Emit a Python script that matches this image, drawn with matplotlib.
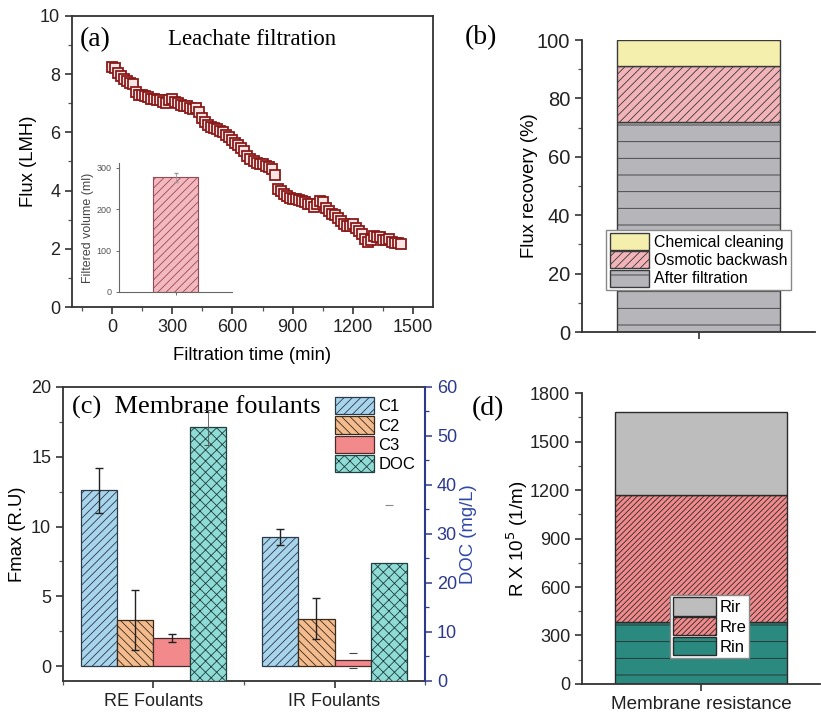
import matplotlib
matplotlib.use("Agg")
import matplotlib.pyplot as plt
from matplotlib.ticker import MultipleLocator
import numpy as np

plt.rcParams['font.family'] = ['Liberation Sans', 'DejaVu Sans']
plt.rcParams['hatch.linewidth'] = 0.6
plt.rcParams['axes.linewidth'] = 1.3

# (a) flux decline during leachate filtration
time_min = [0, 15, 30, 45, 60, 75, 90, 105, 120, 135, 150, 165, 180, 195, 210, 225,
            240, 255, 270, 285, 300, 315, 330, 345, 360, 375, 390, 405, 420, 435, 450,
            465, 480, 495, 510, 525, 540, 555, 570, 585, 600, 615, 630, 645, 660, 675,
            690, 705, 720, 735, 750, 765, 780, 795, 810, 825, 840, 855, 870, 885, 900,
            915, 930, 945, 960, 975, 990, 1005, 1020, 1035, 1050, 1065, 1080, 1095, 1110,
            1125, 1140, 1155, 1170, 1185, 1200, 1215, 1230, 1245, 1260, 1275, 1290, 1305,
            1320, 1335, 1350, 1365, 1380, 1395, 1410, 1425, 1440]
flux = [8.25, 8.2, 8.05, 7.95, 7.85, 7.75, 7.7, 7.65, 7.4, 7.3, 7.3, 7.25, 7.2, 7.15,
        7.15, 7.1, 7.1, 7.05, 7.0, 7.1, 7.15, 7.05, 7.0, 6.95, 6.9, 6.9, 6.85, 6.8, 6.85,
        6.7, 6.5, 6.35, 6.25, 6.2, 6.15, 6.1, 6.05, 6.0, 5.9, 5.85, 5.75, 5.65, 5.55, 5.45,
        5.35, 5.2, 5.1, 5.0, 4.95, 4.92, 4.9, 4.85, 4.8, 4.75, 4.55, 4.05, 3.98, 3.9, 3.8,
        3.75, 3.72, 3.7, 3.68, 3.65, 3.6, 3.55, 3.55, 3.45, 3.55, 3.65, 3.62, 3.4, 3.3,
        3.2, 3.15, 3.05, 2.95, 2.85, 2.8, 2.8, 2.85, 2.7, 2.6, 2.5, 2.35, 2.25, 2.3, 2.45,
        2.4, 2.4, 2.3, 2.3, 2.35, 2.25, 2.2, 2.2, 2.15]
filtered_volume = 277
filtered_volume_err = 10

# (b) flux recovery
recovery_labels = ['After filtration', 'Osmotic backwash', 'Chemical cleaning']
recovery_values = [72, 19, 9]

# (c) membrane foulants
groups = ['RE Foulants', 'IR Foulants']
c1 = [12.6, 9.25]
c1_err = [1.6, 0.6]
c2 = [3.3, 3.4]
c2_err = [2.15, 1.45]
c3 = [2.0, 0.4]
c3_err = [0.27, 0.56]
doc = [51.8, 24.1]
doc_err = [3.6, 11.8]

# (d) membrane resistance
resist_labels = ['Rin', 'Rre', 'Rir']
resist_values = [385, 785, 510]

fig = plt.figure(figsize=(8.21, 7.16), dpi=100)
serif = ['Liberation Serif', 'DejaVu Serif']
spine_col = '#333333'


def style_ticks(ax, size=13):
    ax.tick_params(which='major', direction='out', length=5, width=1.1,
                   labelsize=size, colors='#222222')
    ax.tick_params(which='minor', direction='out', length=3, width=0.9, colors='#555555')
    for s in ax.spines.values():
        s.set_color(spine_col)


# ---------- (a) ----------
ax_a = fig.add_axes([0.0877, 0.5712, 0.4397, 0.4065])
ax_a.plot(time_min, flux, 's', ms=6.5, mfc='#f8e4e4', mec='#8b1a1a', mew=1.3)
ax_a.set_xlim(-200, 1600)
ax_a.set_ylim(0, 10)
ax_a.xaxis.set_major_locator(MultipleLocator(300))
ax_a.xaxis.set_minor_locator(MultipleLocator(150))
ax_a.yaxis.set_major_locator(MultipleLocator(2))
ax_a.yaxis.set_minor_locator(MultipleLocator(1))
style_ticks(ax_a)
ax_a.set_xlabel('Filtration time (min)', fontsize=13.3, labelpad=8)
ax_a.set_ylabel('Flux (LMH)', fontsize=13.3)
ax_a.yaxis.set_label_coords(-0.097, 0.5)
ax_a.text(0.022, 0.962, '(a)', transform=ax_a.transAxes, fontsize=20,
          family=serif, va='top', ha='left')
ax_a.text(0.5, 0.918, 'Leachate filtration', transform=ax_a.transAxes,
          fontsize=16.5, family=serif, va='center', ha='center')

# inset
ax_in = fig.add_axes([0.145, 0.5922, 0.1376, 0.1801])
ax_in.bar([0], [filtered_volume], width=0.4, color='#f4b8bf', edgecolor='#9a4a55',
          hatch='////', linewidth=0.8)
ax_in.errorbar([0], [filtered_volume], yerr=[filtered_volume_err], fmt='none',
               ecolor='#999999', elinewidth=0.6, capsize=1.5)
ax_in.set_xlim(-0.5, 0.5)
ax_in.set_ylim(0, 312)
ax_in.set_yticks([0, 100, 200, 300])
ax_in.set_xticks([0])
ax_in.set_xticklabels([])
ax_in.spines['top'].set_visible(False)
ax_in.spines['right'].set_visible(False)
for s in ax_in.spines.values():
    s.set_color('#666666')
    s.set_linewidth(0.8)
ax_in.tick_params(labelsize=6.5, length=2, width=0.6, colors='#555555')
ax_in.set_ylabel('Filtered volume (ml)', fontsize=8.9, color='#444444', labelpad=2)
ax_in.patch.set_alpha(0)

# ---------- (b) ----------
ax_b = fig.add_axes([0.7089, 0.5363, 0.2838, 0.4078])
b_colors = ['#b5b5ba', '#f2b4b8', '#f5efae']
b_hatch = ['-', '////', None]
bottom = 0
handles_b = []
for lab, val, col, h in zip(recovery_labels, recovery_values, b_colors, b_hatch):
    bb = ax_b.bar([0], [val], bottom=bottom, width=0.7, color=col, edgecolor='#3a3a3a',
                  hatch=h, linewidth=1.0, label=lab)
    handles_b.append(bb)
    bottom += val
ax_b.set_xlim(-0.5, 0.5)
ax_b.set_ylim(0, 100)
ax_b.set_xticks([0])
ax_b.set_xticklabels([])
ax_b.yaxis.set_major_locator(MultipleLocator(20))
ax_b.yaxis.set_minor_locator(MultipleLocator(10))
ax_b.spines['top'].set_visible(False)
ax_b.spines['right'].set_visible(False)
style_ticks(ax_b, size=14.5)
ax_b.set_ylabel('Flux recovery (%)', fontsize=13.3)
ax_b.yaxis.set_label_coords(-0.189, 0.5)
ax_b.legend(handles_b[::-1], recovery_labels[::-1], loc='lower left',
            bbox_to_anchor=(0.105, 0.145), fontsize=11.4, frameon=True,
            fancybox=False, edgecolor='#888888', framealpha=1,
            handlelength=2.5, handleheight=1.25, labelspacing=0.1,
            handletextpad=0.3, borderpad=0.2, borderaxespad=0)
fig.text(0.566, 0.947, '(b)', fontsize=20, family=serif, va='center', ha='left')

# ---------- (c) ----------
ax_c = fig.add_axes([0.0767, 0.0489, 0.441, 0.4106])
x = np.arange(1, len(groups) + 1)
w = 0.2
ax_c.bar(x - 1.5 * w, c1, width=w, color='#a9d5ec', edgecolor='#2a3a4a', hatch='////',
         linewidth=0.9, label='C1', zorder=2)
ax_c.bar(x - 0.5 * w, c2, width=w, color='#f4bc8e', edgecolor='#3a2a1a', hatch='\\\\\\\\',
         linewidth=0.9, label='C2', zorder=2)
ax_c.bar(x + 0.5 * w, c3, width=w, color='#f28a8c', edgecolor='#4a2a2a',
         linewidth=0.9, label='C3', zorder=2)
err_kw = dict(fmt='none', ecolor='#222222', elinewidth=1.0, capsize=3, capthick=1.0, zorder=4)
ax_c.errorbar(x - 1.5 * w, c1, yerr=c1_err, **err_kw)
ax_c.errorbar(x - 0.5 * w, c2, yerr=c2_err, **err_kw)
ax_c.errorbar(x[:1] + 0.5 * w, c3[:1], yerr=c3_err[:1], **err_kw)
ax_c.errorbar(x[1:] + 0.5 * w, c3[1:], yerr=c3_err[1:], fmt='none', ecolor='#444444',
              elinewidth=0, capsize=3, capthick=0.8, zorder=4)
ax_c.set_xlim(0.5, 2.5)
ax_c.set_ylim(-1.07, 20)
ax_c.set_xticks(x)
ax_c.set_xticklabels(groups)
ax_c.xaxis.set_minor_locator(MultipleLocator(0.5))
ax_c.yaxis.set_major_locator(MultipleLocator(5))
ax_c.yaxis.set_minor_locator(MultipleLocator(2.5))
style_ticks(ax_c)
ax_c.spines['right'].set_visible(False)
ax_c.set_ylabel('Fmax (R.U)', fontsize=13.3)
ax_c.yaxis.set_label_coords(-0.102, 0.5)

navy = '#2d3a8c'
ax_c2 = ax_c.twinx()
ax_c2.bar(x + 1.5 * w, doc, width=w, color='#8fdbd5', edgecolor='#1f3f3f', hatch='xxx',
          linewidth=0.9, label='DOC', zorder=2)
ax_c2.errorbar(x[:1] + 1.5 * w, doc[:1], yerr=doc_err[:1], fmt='none', ecolor='#555555',
               elinewidth=0.6, capsize=3, capthick=0.8, zorder=4)
ax_c2.errorbar(x[1:] + 1.5 * w, doc[1:], yerr=doc_err[1:], fmt='none', ecolor='#888888',
               elinewidth=0, capsize=3, capthick=0.8, zorder=1)
ax_c2.set_ylim(0, 60)
ax_c2.yaxis.set_major_locator(MultipleLocator(10))
ax_c2.yaxis.set_minor_locator(MultipleLocator(5))
ax_c2.tick_params(which='major', direction='out', length=5, width=1.1, labelsize=13,
                  colors=navy)
ax_c2.tick_params(which='minor', direction='out', length=3, width=0.9, colors=navy)
for k in ['left', 'top', 'bottom']:
    ax_c2.spines[k].set_visible(False)
ax_c2.spines['right'].set_color(navy)
ax_c2.spines['right'].set_linewidth(1.5)
ax_c2.set_ylabel('DOC (mg/L)', fontsize=13.3, color='#3048a8')
ax_c2.yaxis.set_label_coords(1.097, 0.5)
h1, l1 = ax_c.get_legend_handles_labels()
h2, l2 = ax_c2.get_legend_handles_labels()
ax_c2.legend(h1 + h2, l1 + l2, loc='upper left', bbox_to_anchor=(0.752, 0.965),
             fontsize=12, frameon=False, handlelength=2.3, handleheight=1.2,
             labelspacing=0.12, handletextpad=0.3, borderpad=0, borderaxespad=0)
ax_c2.text(0.025, 0.932, '(c)  Membrane foulants', transform=ax_c2.transAxes,
           fontsize=19, family=serif, va='center', ha='left', zorder=1)

# ---------- (d) ----------
ax_d = fig.add_axes([0.7089, 0.0447, 0.29, 0.4064])
d_colors = ['#2b8a80', '#f28a8c', '#bdbdbd']
d_hatch = ['-', '//////', None]
bottom = 0
handles_d = []
for lab, val, col, h in zip(resist_labels, resist_values, d_colors, d_hatch):
    bb = ax_d.bar([0], [val], bottom=bottom, width=0.72, color=col, edgecolor='#2a2a2a',
                  hatch=h, linewidth=1.0, label=lab)
    handles_d.append(bb)
    bottom += val
ax_d.set_xlim(-0.5, 0.5)
ax_d.set_ylim(0, 1800)
ax_d.set_xticks([0])
ax_d.set_xticklabels(['Membrane resistance'])
ax_d.yaxis.set_major_locator(MultipleLocator(300))
ax_d.yaxis.set_minor_locator(MultipleLocator(150))
ax_d.spines['top'].set_visible(False)
ax_d.spines['right'].set_visible(False)
style_ticks(ax_d, size=13)
ax_d.tick_params(axis='x', labelsize=13.6)
ax_d.set_ylabel(r'R X 10$^5$ (1/m)', fontsize=13.5)
ax_d.yaxis.set_label_coords(-0.22, 0.5)
ax_d.legend(handles_d[::-1], resist_labels[::-1], loc='lower left',
            bbox_to_anchor=(0.37, 0.09), fontsize=12, frameon=True, fancybox=False,
            edgecolor='#888888', framealpha=1, handlelength=2.6, handleheight=1.3,
            labelspacing=0.1, handletextpad=0.2, borderpad=0.15, borderaxespad=0)
fig.text(0.575, 0.429, '(d)', fontsize=20, family=serif, va='center', ha='left')

fig.savefig('out.png', dpi=100)
